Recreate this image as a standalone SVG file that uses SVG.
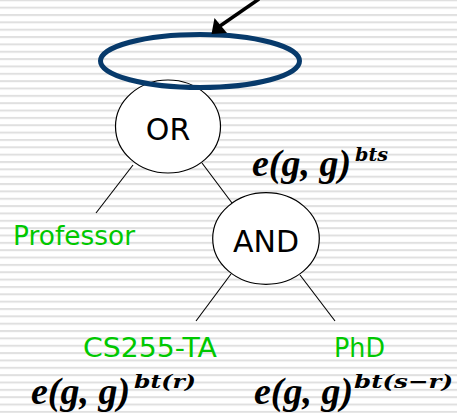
<svg xmlns="http://www.w3.org/2000/svg" width="457" height="413" viewBox="0 0 457 413">
<defs>
<pattern id="stripes" patternUnits="userSpaceOnUse" width="457" height="7.35" patternTransform="translate(0,-0.7)">
<rect x="0" y="0" width="457" height="7.35" fill="#ffffff"/>
<rect x="0" y="0" width="457" height="2" fill="#e0e0e0"/>
</pattern>
<style>
.node{fill:#ffffff;stroke:#000000;stroke-width:1.2}
.edge{stroke:#000000;stroke-width:1.1;fill:none}
.lbl{font-family:"DejaVu Sans","Verdana",sans-serif;font-size:30px;fill:#000000;text-anchor:middle}
.attr{font-family:"DejaVu Sans","Verdana",sans-serif;font-size:26px;fill:#00c800}
.math{font-family:"Liberation Serif","Times New Roman",serif;font-weight:bold;font-style:italic;fill:#000000;font-size:38px}
.sup{font-family:"DejaVu Serif","Liberation Serif",serif;font-weight:bold;font-style:italic;fill:#000000;font-size:19px}
</style>
</defs>
<rect x="0" y="0" width="457" height="413" fill="url(#stripes)"/>
<g id="connectors">
<line class="edge" x1="133" y1="165" x2="96" y2="213"/>
<line class="edge" x1="202" y1="163" x2="232" y2="203"/>
<line class="edge" x1="231" y1="274" x2="196" y2="321"/>
<line class="edge" x1="300" y1="275" x2="335" y2="321"/>
</g>
<g id="node-or">
<ellipse class="node" cx="168" cy="126.5" rx="52.5" ry="46.5"/>
<text class="lbl" x="168" y="140">OR</text>
</g>
<g id="node-and">
<ellipse class="node" cx="266" cy="238.5" rx="53.3" ry="45.8"/>
<text class="lbl" x="266" y="252">AND</text>
</g>
<g id="node-root">
<ellipse cx="200" cy="61" rx="99.5" ry="26.5" fill="none" stroke="#073a6b" stroke-width="5"/>
</g>
<g id="pointer">
<line x1="259" y1="-1" x2="220" y2="26" stroke="#000000" stroke-width="3.5"/>
<polygon points="211.5,34 214.5,18 227,33" fill="#000000"/>
</g>
<g id="leaf-professor">
<text class="attr" x="13" y="245" textLength="122" lengthAdjust="spacingAndGlyphs">Professor</text>
</g>
<g id="leaf-cs255">
<text class="attr" x="83" y="357" textLength="134" lengthAdjust="spacingAndGlyphs">CS255-TA</text>
</g>
<g id="leaf-phd">
<text class="attr" x="334" y="357" textLength="51" lengthAdjust="spacingAndGlyphs">PhD</text>
</g>
<g id="math-top">
<text class="math" x="252" y="176">e(g, g)</text>
<text class="sup" x="355" y="161" textLength="33" lengthAdjust="spacingAndGlyphs">bts</text>
</g>
<g id="math-left">
<text class="math" x="31" y="404">e(g, g)</text>
<text class="sup" x="134" y="388" textLength="62" lengthAdjust="spacingAndGlyphs">bt(r)</text>
</g>
<g id="math-right">
<text class="math" x="254" y="404">e(g, g)</text>
<text class="sup" x="354" y="388" textLength="99" lengthAdjust="spacingAndGlyphs">bt(s−r)</text>
</g>
</svg>
